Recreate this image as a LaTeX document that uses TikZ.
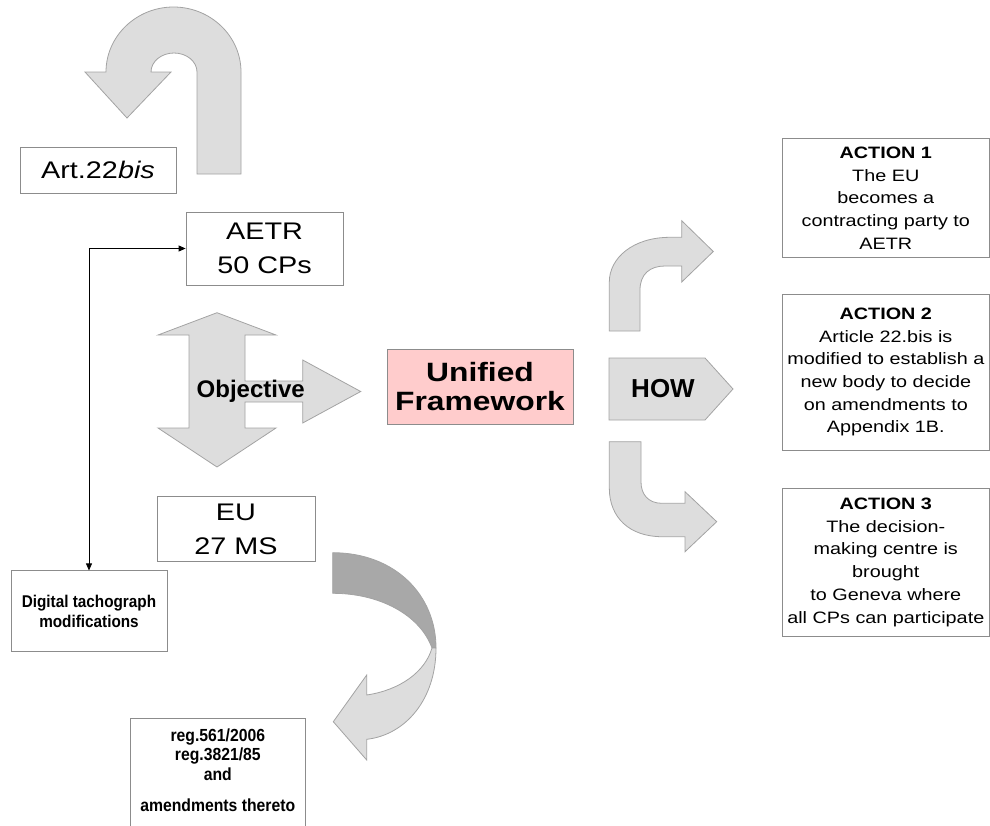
\documentclass[tikz,border=0pt]{standalone}
\usepackage{fontspec}
\setmainfont{Liberation Sans}[FakeStretch=1.2]
\newfontfamily\plainsans{Liberation Sans}
\newfontfamily\narrowsans{Liberation Sans}[FakeStretch=0.9]
\usetikzlibrary{positioning, arrows.meta, calc}
\definecolor{boxline}{HTML}{8C8C8C}
\definecolor{arrowline}{HTML}{A3A3A3}
\definecolor{arrowfill}{HTML}{DDDDDD}
\definecolor{arrowdark}{HTML}{A8A8A8}
\definecolor{framefill}{HTML}{FFCCCC}

\begin{document}
\begin{tikzpicture}[
 x=1pt, y=-1pt,
 textbox/.style={draw=boxline, line width=0.8pt, fill=white, align=center, inner sep=0pt},
 bigbox/.style={textbox, font=\fontsize{24}{34}\selectfont},
 actionbox/.style={textbox, minimum width=206.5, font=\fontsize{16.5}{22.7}\selectfont},
 narrowbox/.style={textbox, font=\narrowsans\bfseries\fontsize{17}{20}\selectfont},
 blockarrow/.style={draw=arrowline, line width=0.8pt, fill=arrowfill, line join=miter},
 link/.style={{Triangle[length=7pt,width=6pt]}-{Triangle[length=7pt,width=6pt]}, line width=0.8pt},
 ]

  \useasboundingbox (0,0) rectangle (990,825);
  \clip (0,0) rectangle (990,825);

  % U-turn arrow over Art.22bis
  \draw[blockarrow] (197,174) -- (197,72) .. controls (197,61.5) and (186.7,53) .. (174,53)
    .. controls (161.3,53) and (151,61.5) .. (151,72) -- (171,72) -- (127,118) -- (85,72) -- (106,72)
    .. controls (106,36) and (136.5,7) .. (173.5,7) .. controls (210.5,7) and (241,36) .. (241,72)
    -- (241,174) -- cycle;

  % Left column boxes
  \node[bigbox, minimum width=156, minimum height=46] (art) at (98,170) {Art.22\textit{bis}};
  \node[bigbox, minimum width=157, minimum height=73] (aetr) at (264.5,248.5) {AETR\\50 CPs};
  \node[bigbox, minimum width=158, minimum height=65] (eu) at (236,529.2) {EU\\27 MS};
  \node[narrowbox, minimum width=156, minimum height=81] (digital) at (89,611.3) {Digital tachograph\\modifications};

  % Regulations box (runs off the bottom)
  \node[narrowbox, minimum width=174.3, minimum height=130, anchor=north] (regs) at (217.8,718.3) {};
  \node[font=\narrowsans\bfseries\fontsize{17.5}{19.3}\selectfont, align=center, inner sep=0pt,
    below=10.5pt of regs.north] (regtext) {reg.561/2006\\reg.3821/85\\and\\[12.4pt]amendments thereto};

  % Objective double arrow
  \draw[blockarrow] (217,312.7) -- (276,335) -- (245,335) -- (245,381) -- (302.7,381) -- (302.7,360)
    -- (360.7,391.5) -- (302.7,423) -- (302.7,402) -- (245,402) -- (245,428) -- (276,428) -- (217,467)
    -- (158,428) -- (189,428) -- (189,335) -- (158,335) -- cycle;
  \node[font=\plainsans\bfseries\fontsize{24}{24}\selectfont] (objective) at (250.7,391.5) {Objective};

  % Unified framework
  \node[textbox, fill=framefill, minimum width=186, minimum height=75,
    font=\bfseries\fontsize{26.5}{29}\selectfont] (frame) at (480,386.7) {Unified\\Framework};

  % HOW block and bent arrows
  \draw[blockarrow] (609,358) -- (705,358) -- (733,389) -- (705,420) -- (609,420) -- cycle;
  \node[font=\plainsans\bfseries\fontsize{26}{26}\selectfont] (how) at (663,389) {HOW};

  \draw[blockarrow] (609.3,331) -- (609.3,282) .. controls (609.3,258) and (633,237.3) .. (670,237.3)
    -- (681.7,237.3) -- (681.7,220.7) -- (713.3,251.5) -- (681.7,282) -- (681.7,266) -- (665,266)
    .. controls (650,266) and (640,274) .. (640,290) -- (640,331) -- cycle;

  \draw[blockarrow] (609.3,441.7) -- (609.3,488) .. controls (609.3,518) and (630,536.7) .. (662,536.7)
    -- (685,536.7) -- (685,551.7) -- (716.7,521.7) -- (685,491.7) -- (685,503.3) -- (662,503.3)
    .. controls (648,503.3) and (641,494) .. (641,482) -- (641,441.7) -- cycle;

  % Actions
  \node[actionbox, minimum height=119.4] (act1) at (885.8,198) {\textbf{ACTION 1}\\The EU\\becomes a\\contracting party to\\AETR};
  \node[actionbox, minimum height=156] (act2) at (885.8,372) {\textbf{ACTION 2}\\Article 22.bis is\\modified to establish a\\new body to decide\\on amendments to\\Appendix 1B.};
  \node[actionbox, minimum height=147.7] (act3) at (885.8,562.2) {\textbf{ACTION 3}\\The decision-\\making centre is\\brought\\to Geneva where\\all CPs can participate};

  % Curved arrow from EU to regulations
  \draw[blockarrow, fill=arrowdark] (332.7,552.7) .. controls (395,552.7) and (436,595) .. (436,648)
    -- (432,648) .. controls (420,615) and (380,593.3) .. (332.7,593.3) -- cycle;
  \draw[blockarrow] (436,648) .. controls (436,700) and (405,735) .. (366.7,739.3) -- (366.7,760)
    -- (333.3,721.7) -- (366.7,675) -- (366.7,695) .. controls (400,690) and (425,672) .. (432,648) -- cycle;

  % Link between AETR and digital tachograph
  \draw[link] (aetr.west) -| (digital.north);

\end{tikzpicture}
\end{document}
